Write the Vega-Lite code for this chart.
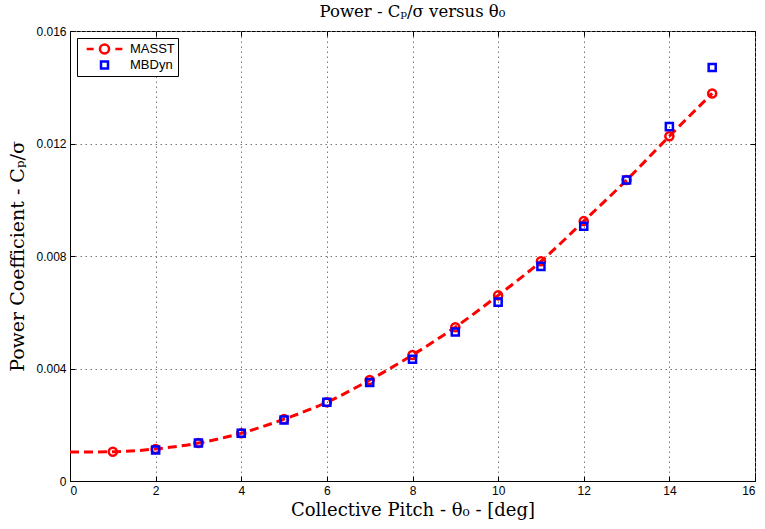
{
  "$schema": "https://vega.github.io/schema/vega-lite/v6.json",
  "width": 685,
  "height": 450,
  "autosize": {"type": "none"},
  "padding": {"left": 70, "top": 31, "right": 10, "bottom": 48},
  "background": "white",
  "title": {"text": "Power - Cₚ/σ versus θ₀", "font": "DejaVu Serif", "fontSize": 16.5, "fontWeight": "normal", "color": "black", "anchor": "middle", "offset": 5},
  "config": {
    "view": {"stroke": "black", "strokeWidth": 1},
    "axis": {"labelFont": "Liberation Sans", "labelFontSize": 12, "labelColor": "black", "titleFont": "DejaVu Serif", "titleFontSize": 18, "titleFontWeight": "normal", "titleColor": "black", "tickColor": "black", "domainColor": "black", "tickSize": -5, "labelPadding": 9, "gridColor": "#777", "gridDash": [1.5, 3.5], "gridWidth": 1}
  },
  "datasets": {
    "curve": [
      {"x": 0, "y": 0.00103}, {"x": 1, "y": 0.00104}, {"x": 2, "y": 0.00114}, {"x": 3, "y": 0.00135},
      {"x": 4, "y": 0.0017}, {"x": 5, "y": 0.0022}, {"x": 6, "y": 0.0028}, {"x": 7, "y": 0.00359},
      {"x": 8, "y": 0.00448}, {"x": 9, "y": 0.00547}, {"x": 10, "y": 0.0066}, {"x": 11, "y": 0.00781},
      {"x": 12, "y": 0.00924}, {"x": 13, "y": 0.0107}, {"x": 14, "y": 0.01226}, {"x": 15, "y": 0.01378}
    ],
    "points": [
      {"x": 1, "y": 0.00104, "series": "MASST"}, {"x": 2, "y": 0.00114, "series": "MASST"}, {"x": 3, "y": 0.00135, "series": "MASST"},
      {"x": 4, "y": 0.0017, "series": "MASST"}, {"x": 5, "y": 0.0022, "series": "MASST"}, {"x": 6, "y": 0.0028, "series": "MASST"},
      {"x": 7, "y": 0.00359, "series": "MASST"}, {"x": 8, "y": 0.00448, "series": "MASST"}, {"x": 9, "y": 0.00547, "series": "MASST"},
      {"x": 10, "y": 0.0066, "series": "MASST"}, {"x": 11, "y": 0.00781, "series": "MASST"}, {"x": 12, "y": 0.00924, "series": "MASST"},
      {"x": 13, "y": 0.0107, "series": "MASST"}, {"x": 14, "y": 0.01226, "series": "MASST"}, {"x": 15, "y": 0.01378, "series": "MASST"},
      {"x": 2, "y": 0.0011, "series": "MBDyn"}, {"x": 3, "y": 0.00135, "series": "MBDyn"}, {"x": 4, "y": 0.0017, "series": "MBDyn"},
      {"x": 5, "y": 0.00217, "series": "MBDyn"}, {"x": 6, "y": 0.0028, "series": "MBDyn"}, {"x": 7, "y": 0.0035, "series": "MBDyn"},
      {"x": 8, "y": 0.00433, "series": "MBDyn"}, {"x": 9, "y": 0.0053, "series": "MBDyn"}, {"x": 10, "y": 0.00636, "series": "MBDyn"},
      {"x": 11, "y": 0.00763, "series": "MBDyn"}, {"x": 12, "y": 0.00906, "series": "MBDyn"}, {"x": 13, "y": 0.0107, "series": "MBDyn"},
      {"x": 14, "y": 0.0126, "series": "MBDyn"}, {"x": 15, "y": 0.0147, "series": "MBDyn"}
    ]
  },
  "layer": [
    {
      "data": {"name": "curve"},
      "mark": {"type": "line", "color": "#ff0000", "strokeWidth": 3, "strokeDash": [9, 5], "interpolate": "monotone"},
      "encoding": {
        "x": {"field": "x", "type": "quantitative", "scale": {"domain": [0, 16], "nice": false}, "axis": {"orient": "bottom", "values": [0, 2, 4, 6, 8, 10, 12, 14, 16], "title": "Collective Pitch - θ₀ - [deg]", "grid": true, "titlePadding": 5}},
        "y": {"field": "y", "type": "quantitative", "scale": {"domain": [0, 0.016], "nice": false, "zero": false}, "axis": {"orient": "left", "values": [0, 0.004, 0.008, 0.012, 0.016], "labelExpr": "datum.value === 0 ? '0' : format(datum.value, '.3f')", "title": "Power Coefficient - Cₚ/σ", "titleFontSize": 19, "grid": true, "titlePadding": 8}}
      }
    },
    {
      "data": {"name": "points"},
      "transform": [{"filter": "datum.series === 'MASST'"}],
      "mark": {"type": "point", "shape": "circle", "filled": false, "strokeWidth": 2.5, "size": 65, "opacity": 1, "color": "#ff0000"},
      "encoding": {
        "x": {"field": "x", "type": "quantitative", "scale": {"domain": [0, 16], "nice": false}, "axis": {"orient": "top", "values": [0, 2, 4, 6, 8, 10, 12, 14, 16], "labels": false, "title": null, "grid": false, "domain": false}},
        "y": {"field": "y", "type": "quantitative", "scale": {"domain": [0, 0.016], "nice": false, "zero": false}, "axis": {"orient": "right", "values": [0, 0.004, 0.008, 0.012, 0.016], "labels": false, "title": null, "grid": false, "domain": false}}
      }
    },
    {
      "data": {"name": "points"},
      "transform": [{"filter": "datum.series === 'MBDyn'"}],
      "mark": {"type": "point", "shape": "square", "filled": false, "strokeWidth": 2.5, "size": 50, "opacity": 1, "color": "#0000ff"},
      "encoding": {
        "x": {"field": "x", "type": "quantitative", "axis": null},
        "y": {"field": "y", "type": "quantitative", "axis": null}
      }
    },
    {
      "data": {"name": "points"},
      "transform": [{"filter": "false"}],
      "mark": {"type": "point", "filled": false, "strokeWidth": 2.5, "opacity": 1},
      "encoding": {
        "color": {"field": "series", "type": "nominal", "scale": {"domain": ["MASST", "MBDyn"], "range": ["#ff0000", "#0000ff"]},
          "legend": {"title": null, "orient": "none", "legendX": 7, "legendY": 7, "strokeColor": "black", "fillColor": "white", "padding": 3, "labelFont": "Liberation Sans", "labelFontSize": 13, "labelColor": "black", "symbolStrokeWidth": 2.5, "symbolSize": 49, "symbolOffset": 18, "labelOffset": 19, "rowPadding": 0, "clipHeight": 16, "labelLimit": 200}},
        "shape": {"field": "series", "type": "nominal", "scale": {"domain": ["MASST", "MBDyn"], "range": ["M-5.1,0H-3.1M3.1,0H5.1M1.3,0A1.3,1.3,0,1,1,-1.3,0A1.3,1.3,0,1,1,1.3,0", "square"]}}
      }
    }
  ],
  "resolve": {"axis": {"x": "independent", "y": "independent"}}
}
